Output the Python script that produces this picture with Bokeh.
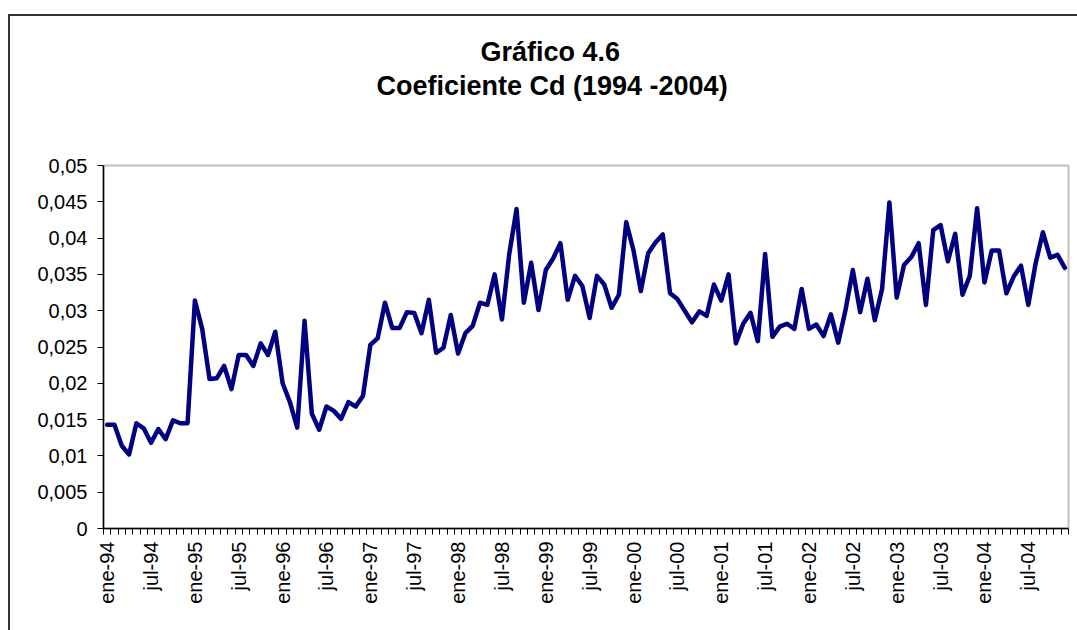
from bokeh.plotting import figure
from bokeh.models import (Range1d, FixedTicker, CustomJSTickFormatter, Title,
                          ColumnDataSource, InlineStyleSheet)
from bokeh.embed import file_html
from bokeh.resources import INLINE
import math

# ---------------- data ----------------
title_line1 = "Gráfico 4.6"
title_line2 = "Coeficiente Cd (1994 -2004)"

month_names = ["ene", "feb", "mar", "abr", "may", "jun",
               "jul", "ago", "sep", "oct", "nov", "dic"]
years = ["94", "95", "96", "97", "98", "99", "00", "01", "02", "03", "04"]

cd_1994 = [0.0143, 0.0143, 0.0114, 0.0102, 0.0145, 0.0138, 0.0118, 0.0137, 0.0123, 0.0149, 0.0145, 0.0145]
cd_1995 = [0.0314, 0.0275, 0.0206, 0.0207, 0.0224, 0.0192, 0.0239, 0.0239, 0.0224, 0.0255, 0.0239, 0.0271]
cd_1996 = [0.0200, 0.0174, 0.0139, 0.0286, 0.0158, 0.0136, 0.0168, 0.0162, 0.0151, 0.0174, 0.0168, 0.0183]
cd_1997 = [0.0253, 0.0262, 0.0311, 0.0276, 0.0276, 0.0298, 0.0297, 0.0269, 0.0315, 0.0242, 0.0249, 0.0294]
cd_1998 = [0.0241, 0.0269, 0.0279, 0.0311, 0.0308, 0.0350, 0.0288, 0.0378, 0.0440, 0.0311, 0.0366, 0.0301]
cd_1999 = [0.0356, 0.0372, 0.0393, 0.0315, 0.0348, 0.0334, 0.0290, 0.0348, 0.0336, 0.0304, 0.0322, 0.0422]
cd_2000 = [0.0383, 0.0327, 0.0379, 0.0394, 0.0405, 0.0324, 0.0316, 0.0300, 0.0284, 0.0299, 0.0293, 0.0336]
cd_2001 = [0.0314, 0.0350, 0.0255, 0.0282, 0.0297, 0.0258, 0.0378, 0.0264, 0.0278, 0.0282, 0.0275, 0.0330]
cd_2002 = [0.0275, 0.0281, 0.0265, 0.0295, 0.0256, 0.0301, 0.0356, 0.0298, 0.0344, 0.0287, 0.0330, 0.0449]
cd_2003 = [0.0318, 0.0363, 0.0374, 0.0393, 0.0308, 0.0411, 0.0418, 0.0368, 0.0406, 0.0322, 0.0348, 0.0441]
cd_2004 = [0.0339, 0.0383, 0.0383, 0.0324, 0.0347, 0.0362, 0.0308, 0.0365, 0.0408, 0.0373, 0.0377, 0.0359]

y_ticks = [0, 0.005, 0.01, 0.015, 0.02, 0.025, 0.03, 0.035, 0.04, 0.045, 0.05]

# ---------------- assemble ----------------
cd = (cd_1994 + cd_1995 + cd_1996 + cd_1997 + cd_1998 + cd_1999 +
      cd_2000 + cd_2001 + cd_2002 + cd_2003 + cd_2004)
categories = [m + "-" + y for y in years for m in month_names]
idx = list(range(len(categories)))

label_idx = [i for i in idx if i % 6 == 0]
overrides = {i: categories[i] for i in label_idx}

src = ColumnDataSource(data=dict(x=idx, y=cd))

FONT = "Liberation Sans"

# chart-area frame (dark line on the left and top edges, as in the source)
frame_css = InlineStyleSheet(css="""
:host { position: relative; }
:host::after {
  content: "";
  position: absolute;
  left: 8px; top: 14px; right: -20px; bottom: -20px;
  border-left: 2px solid #333333;
  border-top: 2px solid #333333;
  pointer-events: none;
  z-index: 10;
}
""")

p = figure(width=1077, height=630, output_backend="svg", toolbar_location=None,
           x_range=Range1d(-0.5, len(categories) - 0.5), y_range=Range1d(0, 0.05),
           min_border_left=103, min_border_right=9, min_border_top=165,
           min_border_bottom=102, background_fill_color="white",
           border_fill_color="white", stylesheets=[frame_css])
p.title.visible = False
p.xgrid.visible = False
p.ygrid.visible = False
p.outline_line_color = "#c0c0c0"
p.outline_line_width = 2

p.line("x", "y", source=src, line_color="#000080", line_width=4.5,
       line_join="round", line_cap="round")

# x axis
xa = p.xaxis[0]
xa.ticker = FixedTicker(ticks=label_idx,
                        minor_ticks=[i - 0.5 for i in idx] + [len(idx) - 0.5])
xa.major_label_overrides = overrides
xa.major_label_orientation = math.pi / 2
xa.major_tick_line_color = None
xa.minor_tick_in = 0
xa.minor_tick_out = 6
xa.minor_tick_line_color = "#000000"
xa.minor_tick_line_width = 1
xa.axis_line_color = "#000000"
xa.axis_line_width = 1.5
xa.major_label_text_font = FONT
xa.major_label_text_font_size = "20px"
xa.major_label_text_color = "#000000"
xa.major_label_standoff = 7

# y axis
ya = p.yaxis[0]
ya.ticker = FixedTicker(ticks=y_ticks, minor_ticks=[])
ya.formatter = CustomJSTickFormatter(code="""
    let s = tick.toFixed(3).replace(/0+$/, '').replace(/\\.$/, '');
    return s.replace('.', ',');
""")
ya.major_tick_in = 0
ya.major_tick_out = 6
ya.major_tick_line_color = "#000000"
ya.axis_line_color = "#000000"
ya.axis_line_width = 1.5
ya.major_label_text_font = FONT
ya.major_label_text_font_size = "20px"
ya.major_label_text_color = "#000000"
ya.major_label_standoff = 10

# spacer between the frame and the two-line title (first added = closest to frame)
p.add_layout(Title(text=" ", standoff=62, text_font_size="1px",
                   text_color="white"), "above")
p.add_layout(Title(text=title_line2, align="left", offset=273, standoff=0,
                   text_font=FONT, text_font_size="27px",
                   text_font_style="bold", text_color="#000000"), "above")
p.add_layout(Title(text=title_line1, align="left", offset=377, standoff=4,
                   text_font=FONT, text_font_size="27px",
                   text_font_style="bold", text_color="#000000"), "above")

open("out.html", "w").write(file_html(p, INLINE))
